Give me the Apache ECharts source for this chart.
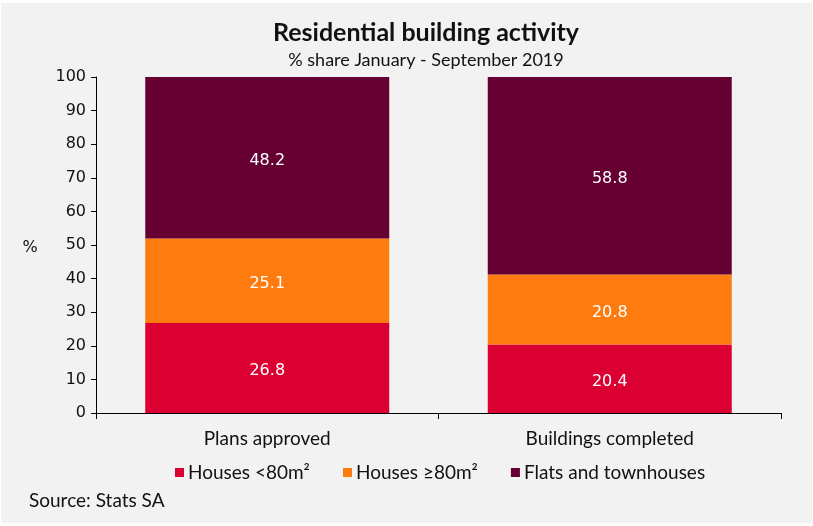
<!DOCTYPE html>
<html><head><meta charset="utf-8">
<script src="https://cdn.jsdelivr.net/npm/echarts@6/dist/echarts.min.js"></script>
<style>html,body{margin:0;padding:0;background:#fff}#c{width:813px;height:526px}</style>
</head><body><div id="c"></div>
<script>
const categories = ['Plans approved', 'Buildings completed'];
const housesSmall = [26.8, 20.4];
const housesLarge = [25.1, 20.8];
const flats = [48.2, 58.8];
const seriesNames = ['Houses <80m²', 'Houses ≥80m²', 'Flats and townhouses'];
const colors = ['#dc0032', '#fe7b10', '#660033'];

const chart = echarts.init(document.getElementById('c'), null, {renderer: 'canvas'});
const lbl = {show: true, position: 'inside', offset: [0, 3], color: '#ffffff', fontFamily: 'DejaVu Sans', fontSize: 16,
  formatter: p => p.value.toFixed(1)};
function mk(name, data, i) {
  return {name, type: 'bar', stack: 's', data, barWidth: 244, itemStyle: {color: colors[i]}, label: lbl};
}
chart.setOption({
  animation: false,
  backgroundColor: '#ffffff',
  graphic: [
    {type: 'rect', shape: {x: 1, y: 3, width: 811, height: 520}, style: {fill: '#f2f2f2'}, z: -10},
    {type: 'text', x: 426, y: 33, style: {text: 'Residential building activity', font: 'bold 25px Lato', fill: '#111', textAlign: 'center', textVerticalAlign: 'middle'}},
    {type: 'text', x: 426, y: 60, style: {text: '% share January - September 2019', font: '18px Lato', fill: '#111', textAlign: 'center', textVerticalAlign: 'middle'}},
    {type: 'text', x: 30, y: 248, style: {text: '%', font: '16px "DejaVu Sans"', fill: '#111', textAlign: 'center', textVerticalAlign: 'middle'}},
    {type: 'text', x: 29, y: 501, style: {text: 'Source: Stats SA', font: '19px Lato', fill: '#111', textAlign: 'left', textVerticalAlign: 'middle'}}
  ],
  legend: {
    data: seriesNames, top: 463, left: 175, padding: 0, icon: 'rect', itemWidth: 9, itemHeight: 9, itemGap: 33,
    textStyle: {fontFamily: 'Lato', fontSize: 19, color: '#111', padding: [0, 0, 0, -1]}
  },
  grid: {left: 96, right: 32, top: 77, bottom: 113},
  xAxis: {
    type: 'category', data: categories,
    axisLine: {lineStyle: {color: '#000', width: 1}},
    axisTick: {show: true, length: 6, lineStyle: {color: '#000'}},
    axisLabel: {fontFamily: 'Lato', fontSize: 19, color: '#111', margin: 16}
  },
  yAxis: {
    type: 'value', min: 0, max: 100, interval: 10,
    axisLine: {show: true, lineStyle: {color: '#000'}},
    axisTick: {show: true, length: 5, lineStyle: {color: '#000'}},
    splitLine: {show: false},
    axisLabel: {fontFamily: 'DejaVu Sans', fontSize: 16, color: '#111', margin: 10}
  },
  series: [mk(seriesNames[0], housesSmall, 0), mk(seriesNames[1], housesLarge, 1), mk(seriesNames[2], flats, 2)]
});
</script></body></html>
